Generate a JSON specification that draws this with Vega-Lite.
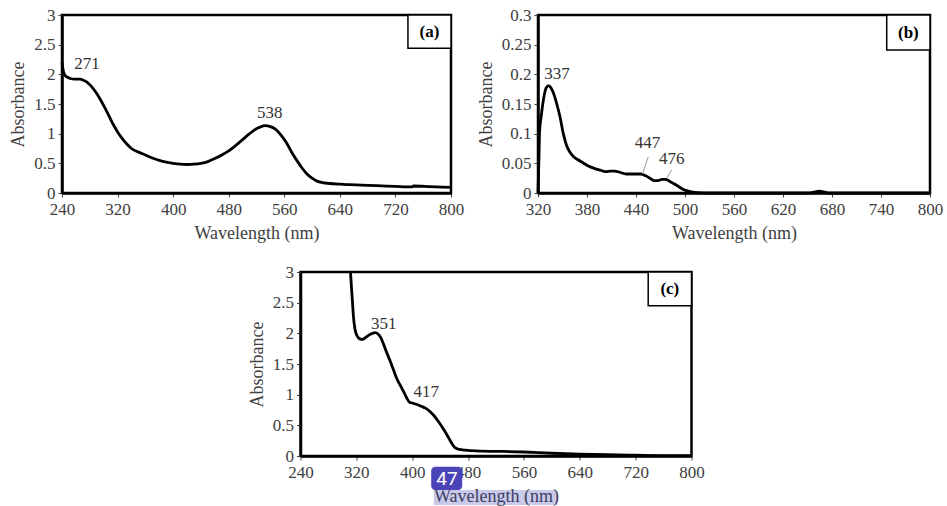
{
  "$schema": "https://vega.github.io/schema/vega-lite/v6.json",
  "padding": {"left": 8, "top": 4, "right": 5, "bottom": 0},
  "background": "white",
  "spacing": 17,
  "center": true,
  "datasets": {
    "a": [
      {"nm": 240, "abs": 2.2}, {"nm": 242, "abs": 2.05}, {"nm": 244, "abs": 1.99}, {"nm": 248, "abs": 1.95},
      {"nm": 252, "abs": 1.93}, {"nm": 258, "abs": 1.92}, {"nm": 266, "abs": 1.92}, {"nm": 271, "abs": 1.9},
      {"nm": 276, "abs": 1.87}, {"nm": 282, "abs": 1.8}, {"nm": 288, "abs": 1.71}, {"nm": 295, "abs": 1.58},
      {"nm": 302, "abs": 1.43}, {"nm": 308, "abs": 1.29}, {"nm": 314, "abs": 1.15}, {"nm": 320, "abs": 1.03},
      {"nm": 326, "abs": 0.93}, {"nm": 333, "abs": 0.83}, {"nm": 340, "abs": 0.75}, {"nm": 350, "abs": 0.69},
      {"nm": 360, "abs": 0.64}, {"nm": 370, "abs": 0.59}, {"nm": 380, "abs": 0.55}, {"nm": 390, "abs": 0.52},
      {"nm": 400, "abs": 0.5}, {"nm": 410, "abs": 0.485}, {"nm": 420, "abs": 0.48}, {"nm": 430, "abs": 0.485},
      {"nm": 440, "abs": 0.5}, {"nm": 450, "abs": 0.53}, {"nm": 460, "abs": 0.58}, {"nm": 470, "abs": 0.64},
      {"nm": 480, "abs": 0.71}, {"nm": 490, "abs": 0.8}, {"nm": 500, "abs": 0.9}, {"nm": 510, "abs": 1.0},
      {"nm": 518, "abs": 1.07}, {"nm": 525, "abs": 1.11}, {"nm": 532, "abs": 1.135}, {"nm": 540, "abs": 1.12},
      {"nm": 548, "abs": 1.07}, {"nm": 555, "abs": 0.98}, {"nm": 563, "abs": 0.85}, {"nm": 570, "abs": 0.7},
      {"nm": 578, "abs": 0.55}, {"nm": 585, "abs": 0.43}, {"nm": 592, "abs": 0.33}, {"nm": 600, "abs": 0.25},
      {"nm": 607, "abs": 0.2}, {"nm": 615, "abs": 0.175}, {"nm": 625, "abs": 0.16}, {"nm": 640, "abs": 0.148},
      {"nm": 655, "abs": 0.14}, {"nm": 680, "abs": 0.128}, {"nm": 700, "abs": 0.12}, {"nm": 720, "abs": 0.112},
      {"nm": 744, "abs": 0.104}, {"nm": 746, "abs": 0.118}, {"nm": 770, "abs": 0.108}, {"nm": 800, "abs": 0.095}
    ],
    "b": [
      {"nm": 320, "abs": 0}, {"nm": 321, "abs": 0.05}, {"nm": 322, "abs": 0.105}, {"nm": 324, "abs": 0.13},
      {"nm": 327, "abs": 0.16}, {"nm": 330, "abs": 0.177}, {"nm": 333, "abs": 0.181}, {"nm": 336, "abs": 0.177},
      {"nm": 339, "abs": 0.168}, {"nm": 343, "abs": 0.15}, {"nm": 347, "abs": 0.128}, {"nm": 351, "abs": 0.1},
      {"nm": 355, "abs": 0.08}, {"nm": 359, "abs": 0.069}, {"nm": 363, "abs": 0.062}, {"nm": 369, "abs": 0.056},
      {"nm": 375, "abs": 0.051}, {"nm": 381, "abs": 0.046}, {"nm": 388, "abs": 0.042}, {"nm": 395, "abs": 0.039},
      {"nm": 403, "abs": 0.036}, {"nm": 409, "abs": 0.037}, {"nm": 414, "abs": 0.037}, {"nm": 420, "abs": 0.035},
      {"nm": 428, "abs": 0.032}, {"nm": 437, "abs": 0.032}, {"nm": 446, "abs": 0.032}, {"nm": 452, "abs": 0.029},
      {"nm": 457, "abs": 0.025}, {"nm": 462, "abs": 0.021}, {"nm": 467, "abs": 0.021}, {"nm": 472, "abs": 0.023},
      {"nm": 476, "abs": 0.023}, {"nm": 481, "abs": 0.02}, {"nm": 486, "abs": 0.016}, {"nm": 492, "abs": 0.011},
      {"nm": 498, "abs": 0.006}, {"nm": 504, "abs": 0.003}, {"nm": 512, "abs": 0.001}, {"nm": 530, "abs": 0},
      {"nm": 600, "abs": 0}, {"nm": 650, "abs": 0}, {"nm": 657, "abs": 0.001}, {"nm": 664, "abs": 0.003},
      {"nm": 670, "abs": 0.002}, {"nm": 676, "abs": 0}, {"nm": 720, "abs": 0}, {"nm": 800, "abs": 0}
    ],
    "c": [
      {"nm": 311.6, "abs": 3.0}, {"nm": 313, "abs": 2.75}, {"nm": 314.5, "abs": 2.5}, {"nm": 316, "abs": 2.25},
      {"nm": 318, "abs": 2.07}, {"nm": 321, "abs": 1.96}, {"nm": 325, "abs": 1.91}, {"nm": 329, "abs": 1.9},
      {"nm": 333, "abs": 1.93}, {"nm": 338, "abs": 1.97}, {"nm": 343, "abs": 2.0}, {"nm": 347, "abs": 2.01},
      {"nm": 351, "abs": 1.99}, {"nm": 355, "abs": 1.93}, {"nm": 359, "abs": 1.82}, {"nm": 363, "abs": 1.7},
      {"nm": 368, "abs": 1.56}, {"nm": 373, "abs": 1.41}, {"nm": 378, "abs": 1.26}, {"nm": 383, "abs": 1.15},
      {"nm": 388, "abs": 1.04}, {"nm": 392, "abs": 0.95}, {"nm": 396, "abs": 0.88}, {"nm": 401, "abs": 0.86},
      {"nm": 407, "abs": 0.84}, {"nm": 413, "abs": 0.81}, {"nm": 419, "abs": 0.78}, {"nm": 425, "abs": 0.73},
      {"nm": 431, "abs": 0.66}, {"nm": 437, "abs": 0.57}, {"nm": 443, "abs": 0.47}, {"nm": 448, "abs": 0.38},
      {"nm": 453, "abs": 0.28}, {"nm": 457, "abs": 0.2}, {"nm": 461, "abs": 0.14}, {"nm": 465, "abs": 0.115},
      {"nm": 472, "abs": 0.1}, {"nm": 480, "abs": 0.09}, {"nm": 500, "abs": 0.08}, {"nm": 530, "abs": 0.075},
      {"nm": 560, "abs": 0.065}, {"nm": 600, "abs": 0.045}, {"nm": 640, "abs": 0.03}, {"nm": 680, "abs": 0.02},
      {"nm": 720, "abs": 0.012}, {"nm": 760, "abs": 0.007}, {"nm": 800, "abs": 0.005}
    ],
    "a_notes": [{"nm": 276, "abs": 2.17, "label": "271"}, {"nm": 539, "abs": 1.35, "label": "538"}],
    "b_notes": [{"nm": 343.4, "abs": 0.2, "label": "337"}, {"nm": 454, "abs": 0.0835, "label": "447"}, {"nm": 483.7, "abs": 0.0574, "label": "476"}],
    "b_leaders": [{"nm": 455, "abs": 0.061, "nm2": 448, "abs2": 0.0324}, {"nm": 483.7, "abs": 0.039, "nm2": 477.6, "abs2": 0.025}],
    "c_notes": [{"nm": 359.3, "abs": 2.15, "label": "351"}, {"nm": 420, "abs": 1.04, "label": "417"}],
    "a_box": [{"nm": 738, "nm2": 800, "abs": 2.44, "abs2": 3}],
    "a_tag": [{"nm": 769, "abs": 2.72, "label": "(a)"}],
    "b_box": [{"nm": 747, "nm2": 800, "abs": 0.241, "abs2": 0.3}],
    "b_tag": [{"nm": 773.5, "abs": 0.2705, "label": "(b)"}],
    "c_box": [{"nm": 738, "nm2": 800, "abs": 2.45, "abs2": 3}],
    "c_tag": [{"nm": 769, "abs": 2.725, "label": "(c)"}],
    "c_highlight": [{"nm": 431, "nm2": 608, "abs": -0.554, "abs2": -0.8}],
    "c_popup": [{"nm": 427.2, "nm2": 471.6, "abs": -0.174, "abs2": -0.554}],
    "c_popup_text": [{"nm": 449.8, "abs": -0.37, "label": "47"}]
  },
  "vconcat": [
    {
      "bounds": "flush",
      "spacing": 87,
      "hconcat": [
        {
          "width": 389, "height": 178,
          "encoding": {
            "x": {"field": "nm", "type": "quantitative", "scale": {"domain": [240, 800], "nice": false, "zero": false}, "axis": {"values": [240, 320, 400, 480, 560, 640, 720, 800], "title": "Wavelength (nm)"}},
            "y": {"field": "abs", "type": "quantitative", "scale": {"domain": [0, 3], "nice": false}, "axis": {"values": [0, 0.5, 1, 1.5, 2, 2.5, 3], "format": "~g", "title": "Absorbance"}}
          },
          "layer": [
            {"data": {"name": "a"}, "mark": {"type": "line", "color": "black", "strokeWidth": 2.8, "interpolate": "monotone"}},
            {"data": {"name": "a_notes"}, "mark": {"type": "text", "fontSize": 17, "color": "#333333"}, "encoding": {"text": {"field": "label"}}},
            {"data": {"name": "a_box"}, "mark": {"type": "rect", "fill": "white", "stroke": "black", "strokeWidth": 1.5}, "encoding": {"x2": {"field": "nm2"}, "y2": {"field": "abs2"}}},
            {"data": {"name": "a_tag"}, "mark": {"type": "text", "fontSize": 17, "fontWeight": "bold", "color": "black"}, "encoding": {"text": {"field": "label"}}}
          ]
        },
        {
          "width": 392, "height": 178,
          "encoding": {
            "x": {"field": "nm", "type": "quantitative", "scale": {"domain": [320, 800], "nice": false, "zero": false}, "axis": {"values": [320, 380, 440, 500, 560, 620, 680, 740, 800], "title": "Wavelength (nm)"}},
            "y": {"field": "abs", "type": "quantitative", "scale": {"domain": [0, 0.3], "nice": false}, "axis": {"values": [0, 0.05, 0.1, 0.15, 0.2, 0.25, 0.3], "format": "~g", "title": "Absorbance"}}
          },
          "layer": [
            {"data": {"name": "b"}, "mark": {"type": "line", "color": "black", "strokeWidth": 2.8, "interpolate": "monotone"}},
            {"data": {"name": "b_leaders"}, "mark": {"type": "rule", "color": "#999999", "strokeWidth": 1}, "encoding": {"x2": {"field": "nm2"}, "y2": {"field": "abs2"}}},
            {"data": {"name": "b_notes"}, "mark": {"type": "text", "fontSize": 17, "color": "#333333"}, "encoding": {"text": {"field": "label"}}},
            {"data": {"name": "b_box"}, "mark": {"type": "rect", "fill": "white", "stroke": "black", "strokeWidth": 1.5}, "encoding": {"x2": {"field": "nm2"}, "y2": {"field": "abs2"}}},
            {"data": {"name": "b_tag"}, "mark": {"type": "text", "fontSize": 17, "fontWeight": "bold", "color": "black"}, "encoding": {"text": {"field": "label"}}}
          ]
        }
      ]
    },
    {
      "width": 391, "height": 184,
      "encoding": {
        "x": {"field": "nm", "type": "quantitative", "scale": {"domain": [240, 800], "nice": false, "zero": false}, "axis": {"values": [240, 320, 400, 480, 560, 640, 720, 800], "title": "Wavelength (nm)"}},
        "y": {"field": "abs", "type": "quantitative", "scale": {"domain": [0, 3], "nice": false}, "axis": {"values": [0, 0.5, 1, 1.5, 2, 2.5, 3], "format": "~g", "title": "Absorbance"}}
      },
      "layer": [
        {"data": {"name": "c"}, "mark": {"type": "line", "color": "black", "strokeWidth": 2.8, "interpolate": "monotone"}},
        {"data": {"name": "c_notes"}, "mark": {"type": "text", "fontSize": 17, "color": "#333333"}, "encoding": {"text": {"field": "label"}}},
        {"data": {"name": "c_box"}, "mark": {"type": "rect", "fill": "white", "stroke": "black", "strokeWidth": 1.5}, "encoding": {"x2": {"field": "nm2"}, "y2": {"field": "abs2"}}},
        {"data": {"name": "c_tag"}, "mark": {"type": "text", "fontSize": 17, "fontWeight": "bold", "color": "black"}, "encoding": {"text": {"field": "label"}}},
        {"data": {"name": "c_highlight"}, "mark": {"type": "rect", "fill": "#3c3cb4", "opacity": 0.28}, "encoding": {"x2": {"field": "nm2"}, "y2": {"field": "abs2"}}},
        {"data": {"name": "c_popup"}, "mark": {"type": "rect", "fill": "#4a44b8", "cornerRadius": 4}, "encoding": {"x2": {"field": "nm2"}, "y2": {"field": "abs2"}}},
        {"data": {"name": "c_popup_text"}, "mark": {"type": "text", "fontSize": 19, "font": "Roboto", "color": "white"}, "encoding": {"text": {"field": "label"}}}
      ]
    }
  ],
  "config": {
    "view": {"stroke": "black", "strokeWidth": 2.5},
    "font": "Liberation Serif",
    "text": {"font": "Liberation Serif"},
    "axis": {
      "labelFont": "Liberation Serif", "labelFontSize": 17, "labelColor": "#404040",
      "titleFont": "Liberation Serif", "titleFontSize": 18, "titleFontWeight": "normal", "titleColor": "#404040",
      "domainColor": "black", "domainWidth": 2.5, "tickColor": "#404040", "tickSize": 4, "tickWidth": 1,
      "grid": false, "labelPadding": 3, "labelFlush": false, "labelOverlap": false
    },
    "axisX": {"labelPadding": 4, "titlePadding": 7},
    "axisY": {"titlePadding": 6}
  }
}
